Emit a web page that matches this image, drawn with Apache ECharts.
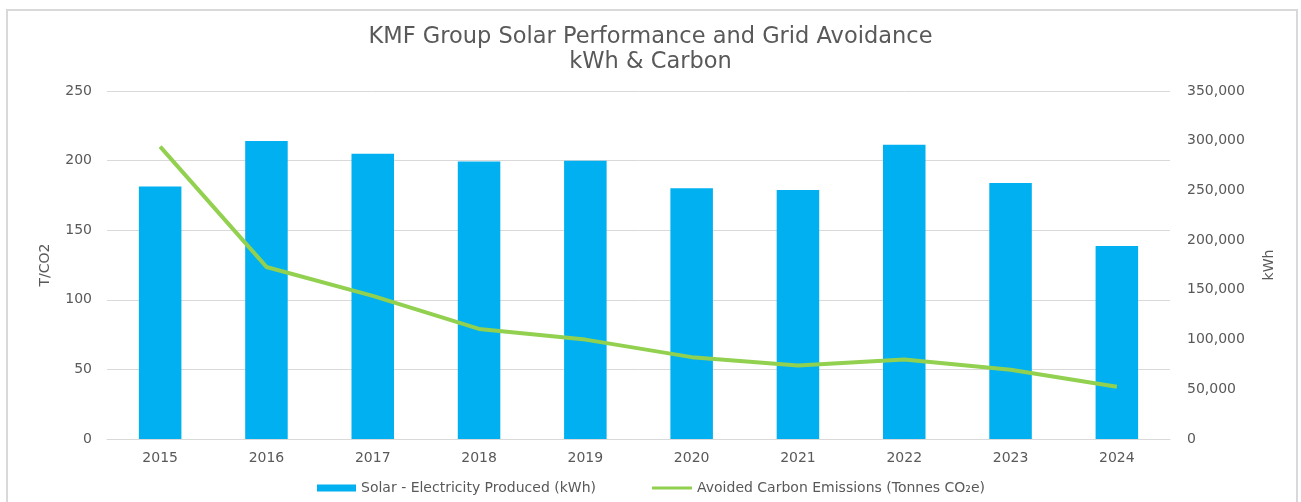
<!DOCTYPE html>
<html>
<head>
<meta charset="utf-8">
<script src="https://cdn.jsdelivr.net/npm/echarts@6/dist/echarts.min.js"></script>
<style>
  html, body { margin: 0; padding: 0; background: #fff; }
  #frame {
    position: absolute; left: 6px; top: 9px; width: 1288px; height: 500px;
    border: 2px solid #d9d9d9; border-bottom: none;
  }
  #chart { position: absolute; left: 0; top: 0; width: 1301px; height: 502px; }
</style>
</head>
<body>
<div id="frame"></div>
<div id="chart"></div>
<script>
// data
const years = ['2015', '2016', '2017', '2018', '2019', '2020', '2021', '2022', '2023', '2024'];
const solarKwh = [254000, 299600, 286800, 279200, 279800, 252100, 250400, 295900, 257400, 194100];
const avoidedCo2 = [210, 123.6, 102.8, 79.1, 71.4, 58.8, 52.8, 57.1, 49.7, 37.5];

const solarName = 'Solar - Electricity Produced (kWh)';
const carbonName = 'Avoided Carbon Emissions (Tonnes CO\u2082e)';

const textColor = '#595959';
const fontFamily = 'DejaVu Sans, sans-serif';

let myChart = echarts.init(document.getElementById('chart'));

let option = {
  title: {
    text: 'KMF Group Solar Performance and Grid Avoidance\nkWh & Carbon',
    left: 'center',
    top: 20,
    textStyle: {
      fontSize: 22.5,
      fontWeight: 'normal',
      color: textColor,
      fontFamily: fontFamily,
      lineHeight: 25
    }
  },
  legend: [
    {
      data: [{ name: solarName, icon: 'rect' }],
      left: 317,
      top: 481,
      padding: 0,
      itemWidth: 39,
      itemHeight: 7,
      textStyle: { color: textColor, fontSize: 14, fontFamily: fontFamily }
    },
    {
      data: [{ name: carbonName, icon: 'rect' }],
      left: 652,
      top: 481,
      padding: 0,
      itemWidth: 40,
      itemHeight: 3,
      textStyle: { color: textColor, fontSize: 14, fontFamily: fontFamily }
    }
  ],
  grid: {
    left: 107,
    right: 131,
    top: 91,
    bottom: 63
  },
  xAxis: {
    type: 'category',
    data: years,
    axisTick: { show: false },
    axisLine: { lineStyle: { color: '#d9d9d9', width: 1 } },
    axisLabel: { color: textColor, fontSize: 14, fontFamily: fontFamily, margin: 12 }
  },
  yAxis: [
    {
      type: 'value',
      min: 0,
      max: 250,
      interval: 50,
      name: 'T/CO2',
      nameLocation: 'middle',
      nameRotate: 90,
      nameGap: 55,
      nameTextStyle: { color: textColor, fontSize: 14, fontFamily: fontFamily },
      axisLine: { show: false },
      axisTick: { show: false },
      axisLabel: { color: textColor, fontSize: 14, fontFamily: fontFamily, margin: 15 },
      splitLine: { lineStyle: { color: '#d9d9d9', width: 1 } }
    },
    {
      type: 'value',
      min: 0,
      max: 350000,
      interval: 50000,
      name: 'kWh',
      nameLocation: 'middle',
      nameRotate: 90,
      nameGap: 92,
      nameTextStyle: { color: textColor, fontSize: 14, fontFamily: fontFamily },
      axisLine: { show: false },
      axisTick: { show: false },
      axisLabel: {
        color: textColor,
        fontSize: 14,
        fontFamily: fontFamily,
        margin: 17,
        formatter: v => v.toLocaleString('en-US')
      },
      splitLine: { show: false }
    }
  ],
  series: [
    {
      name: solarName,
      type: 'bar',
      yAxisIndex: 1,
      data: solarKwh,
      barWidth: '40%',
      itemStyle: { color: '#00b0f0' }
    },
    {
      name: carbonName,
      type: 'line',
      yAxisIndex: 0,
      data: avoidedCo2,
      symbol: 'none',
      lineStyle: { color: '#92d050', width: 4 },
      itemStyle: { color: '#92d050' },
      z: 5
    }
  ],
  animation: false
};

myChart.setOption(option);
</script>
</body>
</html>
